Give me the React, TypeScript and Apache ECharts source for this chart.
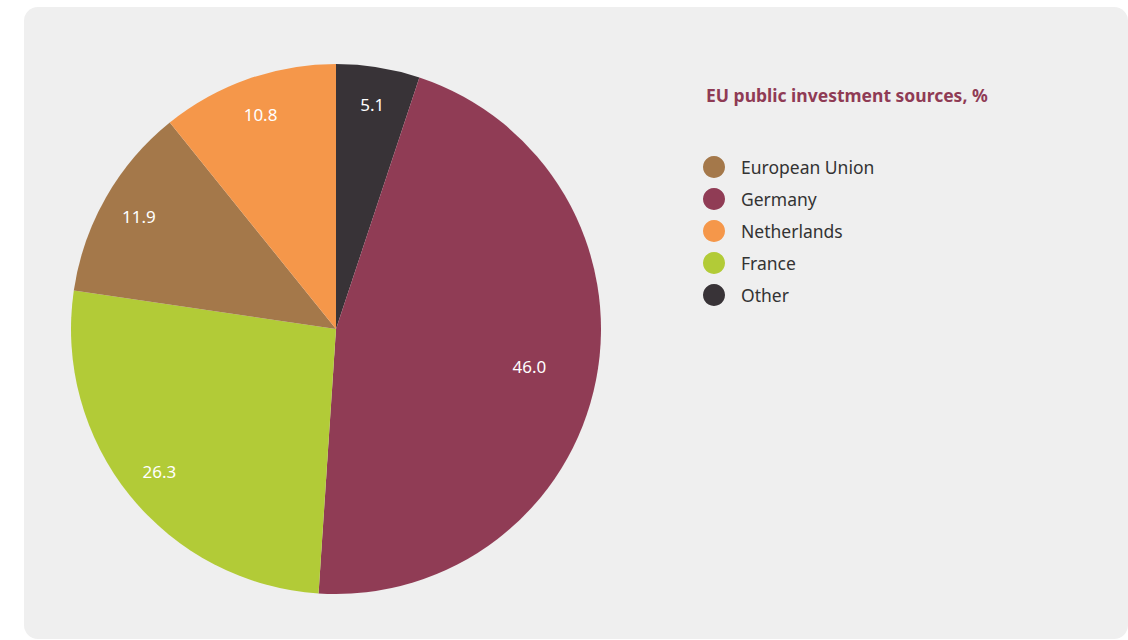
import React, { useEffect, useRef } from "react";
import * as echarts from "echarts";

const TITLE = "EU public investment sources, %";
// clockwise from 12 o'clock
const SLICE_NAMES = ["Other", "Germany", "France", "European Union", "Netherlands"];
const SLICE_VALUES = [5.1, 46.0, 26.3, 11.9, 10.8];
const SLICE_COLORS = ["#383337", "#903c55", "#b2cb37", "#a4784a", "#f5974a"];
const LEGEND_ORDER = ["European Union", "Germany", "Netherlands", "France", "Other"];
const BIG_LABEL = "Germany";

const FONT = "'Noto Sans', 'Open Sans', sans-serif";

export default function App() {
  const ref = useRef<HTMLDivElement>(null);
  useEffect(() => {
    if (!ref.current) return;
    const chart = echarts.init(ref.current, undefined, { renderer: "svg" });
    const base = SLICE_NAMES.map((n, i) => ({
      name: n,
      value: SLICE_VALUES[i],
      itemStyle: { color: SLICE_COLORS[i] },
    }));
    const labelData = (big: boolean) =>
      SLICE_NAMES.map((n, i) => ({
        name: n,
        value: SLICE_VALUES[i],
        itemStyle: { color: "rgba(0,0,0,0)" },
        label: { show: (n === BIG_LABEL) === big },
      }));
    const labelCommon = {
      position: "inside",
      color: "#ffffff",
      fontSize: 17,
      fontFamily: FONT,
      formatter: (p: any) => p.value.toFixed(1),
    };
    chart.setOption({
      animation: false,
      backgroundColor: "transparent",
      title: {
        text: TITLE,
        left: 706,
        top: 86,
        padding: 0,
        textStyle: { fontFamily: FONT, fontSize: 17.5, fontWeight: "bold", color: "#8f3b55" },
      },
      legend: {
        orient: "vertical",
        left: 703,
        top: 156,
        padding: 0,
        icon: "circle",
        itemWidth: 22,
        itemHeight: 22,
        itemGap: 10,
        data: LEGEND_ORDER,
        textStyle: { fontFamily: FONT, fontSize: 17.5, color: "#333333", padding: [0, 0, 0, 11] },
        selectedMode: false,
      },
      series: [
        {
          type: "pie",
          center: [336, 329],
          radius: [0, 265],
          startAngle: 90,
          clockwise: true,
          data: base,
          label: { show: false },
          labelLine: { show: false },
          itemStyle: { borderWidth: 0 },
          silent: true,
        },
        {
          type: "pie",
          center: [336, 329],
          radius: [183, 265],
          startAngle: 90,
          clockwise: true,
          data: labelData(false),
          label: labelCommon,
          labelLine: { show: false },
          silent: true,
          legendHoverLink: false,
        },
        {
          type: "pie",
          center: [336, 329],
          radius: [123, 265],
          startAngle: 90,
          clockwise: true,
          data: labelData(true),
          label: labelCommon,
          labelLine: { show: false },
          silent: true,
          legendHoverLink: false,
        },
      ],
    });
    return () => chart.dispose();
  }, []);

  return (
    <div style={{ position: "absolute", left: 0, top: 0, width: 1128, height: 640, background: "#ffffff", overflow: "hidden" }}>
      <div
        style={{
          position: "absolute",
          left: 24,
          top: 7,
          width: 1104,
          height: 632,
          background: "#efefef",
          borderRadius: 14,
        }}
      />
      <div ref={ref} style={{ position: "absolute", left: 0, top: 0, width: 1128, height: 640 }} />
    </div>
  );
}
